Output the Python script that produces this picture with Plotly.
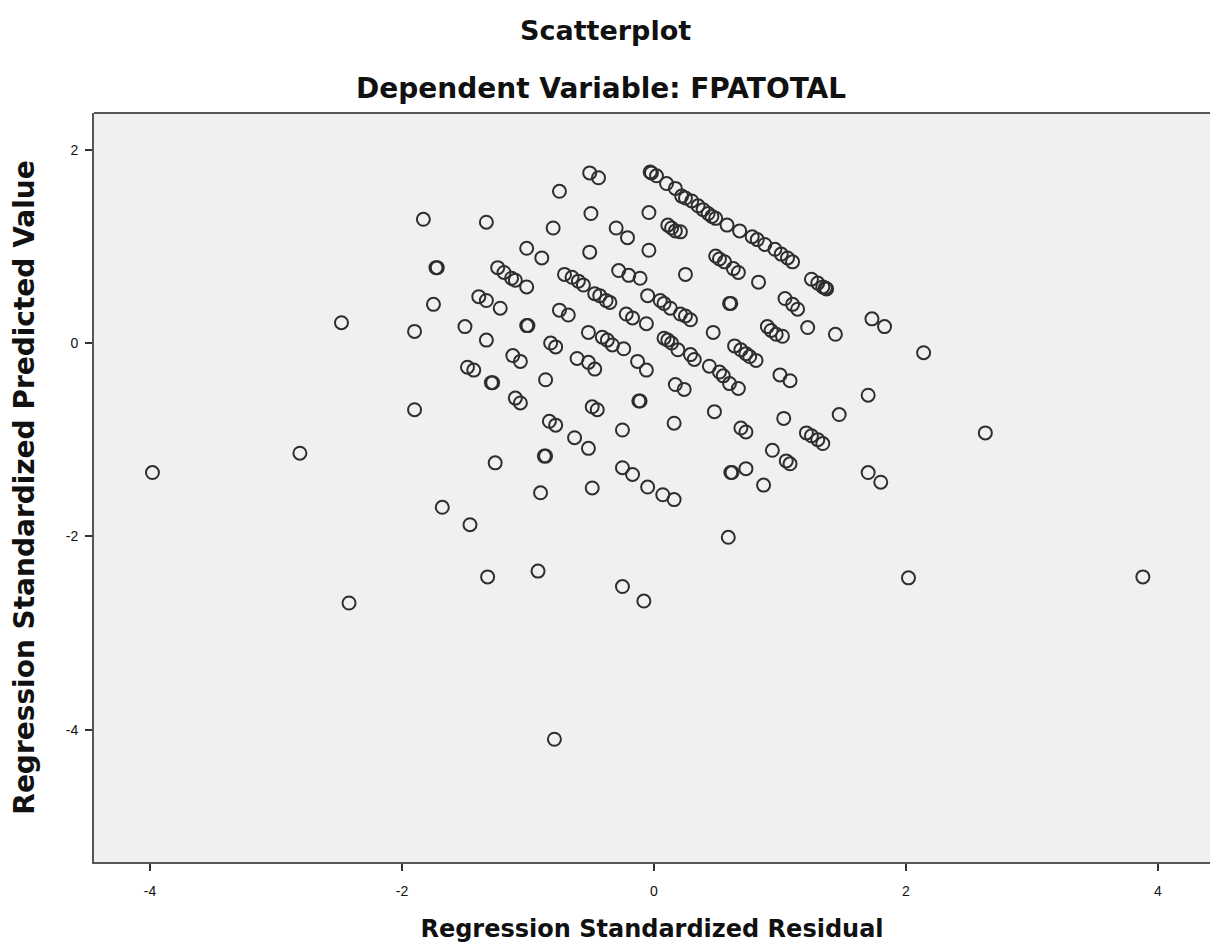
import plotly.graph_objects as go

# Standardized residual (x) and standardized predicted value (y) per case
resid = [
    -3.98, -2.81, -2.48, -2.42, -1.90, -1.90, -1.83, -1.75, -1.73, -1.72,
    -1.68, -1.50, -1.48, -1.43, -1.46, -1.39, -1.33, -1.33, -1.33, -1.29,
    -1.28, -1.32, -1.26, -1.24, -1.19, -1.13, -1.10, -1.22, -1.12, -1.06,
    -1.10, -1.06, -1.01, -1.00, -1.01, -1.01, -0.89, -0.87, -0.86, -0.90,
    -0.92, -0.86, -0.82, -0.78, -0.83, -0.78, -0.80, -0.75, -0.79, -0.75,
    -0.68, -0.71, -0.65, -0.63, -0.61, -0.60, -0.56, -0.52, -0.52, -0.47,
    -0.52, -0.51, -0.50, -0.51, -0.44, -0.49, -0.47, -0.43, -0.38, -0.35,
    -0.49, -0.45, -0.41, -0.37, -0.33, -0.30, -0.21, -0.28, -0.20, -0.25,
    -0.25, -0.25, -0.24, -0.22, -0.17, -0.13, -0.12, -0.11, -0.17, -0.11,
    -0.06, -0.06, -0.05, -0.05, -0.08, -0.04, -0.04, -0.03, -0.02, 0.02,
    0.05, 0.08, 0.08, 0.11, 0.14, 0.10, 0.07, 0.13, 0.16, 0.17,
    0.11, 0.14, 0.17, 0.21, 0.16, 0.17, 0.19, 0.22, 0.25, 0.24,
    0.21, 0.25, 0.25, 0.29, 0.29, 0.32, 0.30, 0.35, 0.39, 0.43,
    0.46, 0.49, 0.44, 0.47, 0.48, 0.49, 0.52, 0.56, 0.55, 0.52,
    0.58, 0.60, 0.60, 0.61, 0.59, 0.61, 0.62, 0.63, 0.67, 0.64,
    0.69, 0.67, 0.68, 0.69, 0.73, 0.73, 0.78, 0.73, 0.76, 0.81,
    0.83, 0.82, 0.88, 0.87, 0.90, 0.93, 0.97, 0.96, 1.01, 1.02,
    0.94, 1.00, 1.04, 1.06, 1.03, 1.05, 1.08, 1.10, 1.10, 1.08,
    1.14, 1.21, 1.25, 1.30, 1.34, 1.25, 1.30, 1.34, 1.37, 1.36,
    1.22, 1.44, 1.47, 1.70, 1.73, 1.83, 1.70, 1.80, 2.14, 2.02,
    2.63, 3.88,
]
pred = [
    -1.34, -1.14, 0.21, -2.69, -0.69, 0.12, 1.28, 0.40, 0.78, 0.78,
    -1.70, 0.17, -0.25, -0.28, -1.88, 0.48, 0.44, 1.25, 0.03, -0.41,
    -0.41, -2.42, -1.24, 0.78, 0.73, 0.67, 0.65, 0.36, -0.13, -0.19,
    -0.57, -0.62, 0.18, 0.18, 0.98, 0.58, 0.88, -1.17, -1.17, -1.55,
    -2.36, -0.38, 0.00, -0.04, -0.81, -0.85, 1.19, 1.57, -4.10, 0.34,
    0.29, 0.71, 0.68, -0.98, -0.16, 0.64, 0.60, -1.09, -0.20, -0.27,
    0.11, 0.94, 1.34, 1.76, 1.71, -1.50, 0.51, 0.49, 0.44, 0.42,
    -0.66, -0.69, 0.06, 0.03, -0.02, 1.19, 1.09, 0.75, 0.70, -0.90,
    -1.29, -2.52, -0.06, 0.30, 0.26, -0.19, -0.60, -0.60, -1.36, 0.67,
    -0.28, 0.20, 0.49, -1.49, -2.67, 1.35, 0.96, 1.77, 1.76, 1.73,
    0.44, 0.41, 0.05, 0.03, 0.00, 1.65, -1.57, 0.36, -1.62, 1.60,
    1.22, 1.19, 1.16, 1.15, -0.83, -0.43, -0.07, 1.52, 1.50, -0.48,
    0.30, 0.28, 0.71, 0.24, -0.12, -0.17, 1.47, 1.42, 1.38, 1.34,
    1.31, 1.29, -0.24, 0.11, -0.71, 0.90, 0.87, 0.84, -0.34, -0.30,
    1.22, -0.42, 0.41, 0.41, -2.01, -1.34, -1.34, 0.77, 0.73, -0.03,
    -0.07, -0.47, 1.16, -0.88, -0.92, -0.11, 1.10, -1.30, -0.14, -0.18,
    0.63, 1.07, 1.02, -1.47, 0.17, 0.13, 0.09, 0.97, 0.92, 0.07,
    -1.11, -0.33, 0.46, 0.88, -0.78, -1.22, -1.25, 0.84, 0.40, -0.39,
    0.35, -0.93, -0.96, -1.00, -1.04, 0.66, 0.62, 0.58, 0.56, 0.57,
    0.16, 0.09, -0.74, -0.54, 0.25, 0.17, -1.34, -1.44, -0.10, -2.43,
    -0.93, -2.42,
]

x_ticks = [-4, -2, 0, 2, 4]
x_tick_labels = ["-4", "-2", "0", "2", "4"]
y_ticks = [-4, -2, 0, 2]
y_tick_labels = ["-4", "-2", "0", "2"]

TICK_FONT = "Liberation Sans, Arial, sans-serif"
TITLE_FONT = "DejaVu Sans, Verdana, sans-serif"
INK = "#111111"
FRAME = "#555555"

fig = go.Figure()
fig.add_trace(go.Scatter(
    x=resid, y=pred, mode="markers",
    marker=dict(symbol="circle-open", size=13, color="#2e2e2e",
                line=dict(width=2, color="#2e2e2e")),
    hoverinfo="x+y", showlegend=False,
))

fig.update_layout(
    width=1210, height=952,
    margin=dict(l=94, r=0, t=113, b=90),
    paper_bgcolor="white",
    plot_bgcolor="#f0f0f0",
    font=dict(family=TICK_FONT, color=INK, size=14),
    xaxis=dict(
        range=[-4.444, 4.413], tickvals=x_ticks, ticktext=x_tick_labels,
        showgrid=False, zeroline=False,
        showline=True, linecolor=FRAME, linewidth=2,
        ticks="outside", ticklen=7, tickwidth=1.5, tickcolor="#333",
        ticklabelstandoff=8,
        tickfont=dict(size=14, family=TICK_FONT, color=INK),
        title=dict(text="<b>Regression Standardized Residual</b>",
                   font=dict(size=24, family=TITLE_FONT, color=INK), standoff=22),
    ),
    yaxis=dict(
        range=[-5.37, 2.38], tickvals=y_ticks, ticktext=y_tick_labels,
        showgrid=False, zeroline=False,
        showline=True, linecolor=FRAME, linewidth=2,
        ticks="outside", ticklen=7, tickwidth=1.5, tickcolor="#333",
        ticklabelstandoff=4,
        tickfont=dict(size=14, family=TICK_FONT, color=INK),
        title=dict(text="<b>Regression Standardized Predicted Value</b>",
                   font=dict(size=28, family=TITLE_FONT, color=INK), standoff=23),
    ),
    annotations=[
        # chart titles are centred on the whole page, not the plot area
        dict(text="<b>Scatterplot</b>", xref="paper", yref="paper",
             x=0.5, y=1, xshift=-47, yshift=83, yanchor="middle", showarrow=False,
             font=dict(size=27, family=TITLE_FONT, color=INK)),
        dict(text="<b>Dependent Variable: FPATOTAL</b>", xref="paper", yref="paper",
             x=0.5, y=1, xshift=-51, yshift=25, yanchor="middle", showarrow=False,
             font=dict(size=28, family=TITLE_FONT, color=INK)),
    ],
    shapes=[
        dict(type="line", xref="paper", yref="paper", x0=0, x1=1, y0=1, y1=1,
             line=dict(color=FRAME, width=2)),
    ],
)

fig.write_html("out.html")
